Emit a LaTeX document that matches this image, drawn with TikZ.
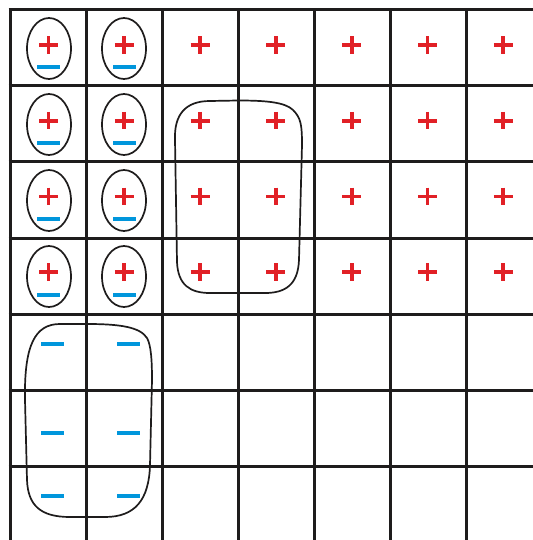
\documentclass[tikz,border=0pt]{standalone}
\usetikzlibrary{calc}
\definecolor{plusred}{RGB}{225,32,38}
\definecolor{minusblue}{RGB}{0,150,220}
\definecolor{gridblack}{RGB}{30,28,28}
\tikzset{
  gridline/.style={draw=gridblack,line width=3pt},
  plusmark/.style={draw=plusred,line width=3.8pt},
  minusmark/.style={draw=minusblue,line width=3.2pt},
  loop/.style={draw=gridblack,line width=1.7pt},
}
\begin{document}
\begin{tikzpicture}[x=1pt,y=-1pt]
\useasboundingbox (0,0) rectangle (532,540);
\fill[white] (0,0) rectangle (532,540);
% grid
\foreach \k in {0,...,6}{
  \draw[gridline] ({10+76*\k},8.5) -- ({10+76*\k},541);
  \draw[gridline] (8.5,{10+76*\k}) -- (533,{10+76*\k});
}
% plus signs
\foreach \r in {0,...,3}{
  \foreach \c in {0,...,6}{
    \coordinate (p\r\c) at ({48.5+75.8*\c},{45+75.7*\r});
    \draw[plusmark] ($(p\r\c)+(-9.5,0)$) -- ($(p\r\c)+(9.5,0)$);
    \draw[plusmark] ($(p\r\c)+(0,-8.8)$) -- ($(p\r\c)+(0,8.8)$);
  }
}
% dipoles: minus below plus, with ellipse
\foreach \r in {0,...,3}{
  \foreach \c in {0,1}{
    \coordinate (m\r\c) at ({48.5+76*\c},{67+76*\r});
    \draw[minusmark] ($(m\r\c)+(-11.5,0)$) -- ($(m\r\c)+(11.5,0)$);
    \coordinate (e\r\c) at ({49+75*\c},{48.5+76*\r});
    \draw[loop] (e\r\c) ellipse [x radius=22, y radius=30.5];
  }
}
% free negative charges
\foreach \r/\y in {0/344,1/433,2/496}{
  \foreach \c/\x in {0/52.5,1/128.5}{
    \coordinate (n\r\c) at (\x,\y);
    \draw[minusmark] ($(n\r\c)+(-11.5,0)$) -- ($(n\r\c)+(11.5,0)$);
  }
}
% loop round the positive block
\draw[loop] (238,100.5) .. controls (265,100.5) and (285,102) .. (293,110)
  .. controls (301,118) and (302,125) .. (302,145) -- (299,260)
  .. controls (298,285) and (285,293) .. (265,293) -- (210,293)
  .. controls (190,293) and (178,285) .. (177,262) -- (175,140)
  .. controls (174,115) and (185,101) .. (210,101) -- cycle;
% loop round the negative block
\draw[loop] (87,324) .. controls (120,324) and (140,327) .. (147,338)
  .. controls (151,345) and (152,360) .. (152,380) -- (150,465)
  .. controls (149,500) and (135,517) .. (105,517) -- (70,517)
  .. controls (40,517) and (28,505) .. (27,480) -- (25,400)
  .. controls (24,345) and (35,324) .. (60,324) -- cycle;
\end{tikzpicture}
\end{document}
